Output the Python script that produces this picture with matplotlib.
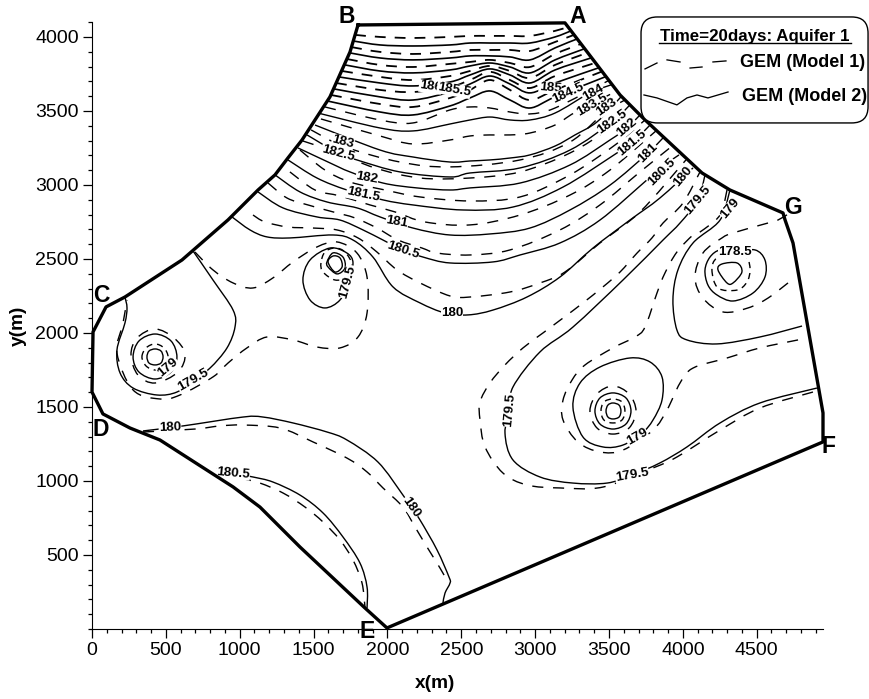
import matplotlib
matplotlib.use("Agg")
import matplotlib.pyplot as plt
from matplotlib.patches import FancyBboxPatch, PathPatch
from matplotlib.path import Path
from matplotlib.ticker import MultipleLocator

plt.rcParams['font.family'] = ['Liberation Sans', 'DejaVu Sans']

# aquifer boundary, clockwise from B
boundary_x = [1801, 3202, 3575, 3730, 4130, 4319, 4678, 4692, 4746, 4949, 4949, 1997, 1848, 1408, 1137, 955, 460, 257, 74, 0, 7, 95, 223, 609, 921, 1124, 1239, 1327, 1422, 1611, 1747, 1801]
boundary_y = [4081, 4095, 3608, 3453, 3081, 2966, 2811, 2764, 2608, 1460, 1264, 7, 142, 554, 824, 960, 1277, 1358, 1453, 1601, 2007, 2176, 2243, 2493, 2764, 2966, 3068, 3183, 3304, 3595, 3899, 4081]

# closely spaced lines below the BA edge, top to bottom, dashed and solid in turn
top_x = [1950, 2173, 2424, 2559, 2694, 2830, 2965, 3135]
top_left_x = [1781, 1767, 1754, 1747, 1726, 1713, 1693, 1672, 1652, 1638, 1618, 1591]
top_left_y = [4014, 3973, 3932, 3892, 3851, 3811, 3770, 3730, 3689, 3649, 3608, 3568]
top_right_x = [3223, 3243, 3263, 3283, 3311, 3331, 3351, 3378, 3405, 3426, 3446, 3473]
top_right_y = [4068, 4041, 4014, 3986, 3953, 3919, 3892, 3858, 3824, 3790, 3764, 3730]
top_rows = [
    [4000, 3993, 4000, 4007, 4007, 4007, 4007, 4041],
    [3946, 3939, 3946, 3959, 3959, 3959, 3959, 4000],
    [3899, 3885, 3899, 3912, 3912, 3912, 3905, 3966],
    [3858, 3845, 3858, 3872, 3872, 3865, 3845, 3926],
    [3811, 3797, 3818, 3831, 3845, 3824, 3797, 3885],
    [3770, 3757, 3777, 3804, 3824, 3797, 3757, 3845],
    [3730, 3709, 3736, 3770, 3804, 3770, 3723, 3811],
    [3689, 3669, 3696, 3743, 3784, 3743, 3689, 3777],
    [3642, 3628, 3662, 3709, 3764, 3709, 3655, 3736],
    [3595, 3574, 3628, 3682, 3736, 3682, 3622, 3689],
    [3547, 3527, 3588, 3642, 3709, 3642, 3574, 3642],
    [3493, 3473, 3534, 3588, 3635, 3574, 3520, 3595],
]

# Model 1 (dashed) head contours
d184_x = [1577, 1950, 2173, 2424, 2559, 2694, 2830, 2965, 3135, 3493]
d184_y = [3527, 3439, 3419, 3507, 3527, 3520, 3493, 3480, 3520, 3703]
d183_x = [1550, 1950, 2173, 2424, 2559, 2694, 2830, 2965, 3135, 3270, 3554]
d183_y = [3446, 3331, 3277, 3304, 3331, 3338, 3338, 3351, 3405, 3490, 3635]
d182_5_x = [1483, 1713, 2085, 2424, 2898, 3236, 3473, 3608]
d182_5_y = [3372, 3257, 3155, 3122, 3169, 3290, 3493, 3574]
d182_x = [1428, 1645, 1916, 2221, 2559, 2898, 3236, 3507, 3663]
d182_y = [3297, 3223, 3115, 3047, 3047, 3088, 3216, 3385, 3520]
d181_5_x = [1408, 1577, 1747, 1984, 2221, 2559, 2898, 3236, 3541, 3744]
d181_5_y = [3236, 3101, 3020, 2966, 2919, 2892, 2919, 3068, 3270, 3439]
d181_x = [1340, 1510, 1679, 1882, 2051, 2254, 2559, 2898, 3236, 3507, 3818]
d181_y = [3088, 2966, 2926, 2865, 2818, 2750, 2730, 2797, 2932, 3101, 3365]
d180_5_x = [1192, 1320, 1462, 1632, 1781, 1929, 2072, 2234, 2336, 2559, 2830, 3168, 3439, 3710, 3920]
d180_5_y = [3013, 2912, 2865, 2818, 2777, 2709, 2628, 2574, 2540, 2527, 2561, 2696, 2865, 3088, 3257]
d180_x = [1090, 1171, 1327, 1496, 1659, 1801, 1929, 2065, 2221, 2424, 2559, 2830, 3033, 3202, 3439, 3710, 4021]
d180_y = [2797, 2750, 2716, 2709, 2696, 2642, 2547, 2426, 2338, 2250, 2243, 2277, 2338, 2412, 2608, 2818, 3169]
d179_5_left_x = [697, 819, 955, 1090, 1225, 1361, 1523, 1659, 1794, 1862, 1862, 1801, 1679, 1523, 1361, 1185, 1049, 921, 819, 596, 460, 278, 169, 210, 237]
d179_5_left_y = [2547, 2426, 2338, 2304, 2372, 2480, 2581, 2615, 2540, 2378, 2135, 1973, 1899, 1905, 1953, 1973, 1899, 1797, 1703, 1581, 1554, 1615, 1865, 2067, 2223]
d179_5_main_x = [4881, 4522, 4252, 3960, 3798, 3459, 3168, 2945, 2782, 2661, 2627, 2627, 2694, 2796, 2918, 3053, 3189, 3324, 3459, 3575, 3690, 3791, 3866, 4001, 4116]
d179_5_main_y = [1601, 1493, 1344, 1162, 1088, 959, 953, 973, 1054, 1230, 1412, 1534, 1662, 1784, 1899, 2000, 2101, 2203, 2311, 2412, 2540, 2642, 2743, 2878, 3088]
d179_x = [4780, 4522, 4299, 4069, 3981, 3893, 3798, 3595, 3439, 3290, 3189, 3189, 3250, 3338, 3527, 3676, 3744, 3825, 3879, 3960, 4069, 4116, 4252, 4299]
d179_y = [1953, 1899, 1831, 1763, 1662, 1480, 1344, 1209, 1196, 1263, 1412, 1547, 1682, 1784, 1899, 1973, 2040, 2270, 2405, 2547, 2662, 2682, 2797, 2966]
d178_5_x = [4712, 4577, 4441, 4272, 4136, 4082, 4136, 4265, 4340, 4577, 4644, 4725]
d178_5_y = [2338, 2236, 2169, 2142, 2236, 2378, 2540, 2642, 2676, 2743, 2763, 2811]
d180_low_x = [345, 697, 867, 1022, 1273, 1496, 1726, 1862, 1970, 2105, 2187, 2268, 2356, 2410]
d180_low_y = [1331, 1351, 1372, 1378, 1358, 1264, 1155, 1061, 953, 824, 689, 554, 412, 317]
d180_5_low_x = [1002, 1137, 1293, 1442, 1564, 1679, 1767, 1828, 1848]
d180_5_low_y = [1020, 986, 919, 824, 723, 601, 466, 311, 149]

# Model 1 rings inside the wells
d_ring_a_x = [338, 366, 427, 487, 515, 487, 427, 366, 338]
d_ring_a_y = [1838, 1899, 1926, 1899, 1838, 1777, 1750, 1777, 1838]
d_ring_b_x = [264, 305, 427, 555, 630, 582, 427, 311, 264]
d_ring_b_y = [1851, 1966, 2027, 1966, 1858, 1736, 1662, 1716, 1851]
d_ring_c_x = [1550, 1564, 1645, 1726, 1760, 1713, 1645, 1577, 1550]
d_ring_c_y = [2473, 2412, 2358, 2378, 2459, 2547, 2574, 2547, 2473]
d_ring_d_x = [3446, 3466, 3527, 3588, 3608, 3588, 3527, 3466, 3446]
d_ring_d_y = [1473, 1534, 1554, 1534, 1473, 1412, 1392, 1412, 1473]
d_ring_e_x = [3371, 3419, 3527, 3636, 3683, 3636, 3527, 3419, 3371]
d_ring_e_y = [1473, 1588, 1642, 1588, 1473, 1358, 1317, 1358, 1473]
d_ring_f_x = [4197, 4238, 4367, 4434, 4455, 4434, 4353, 4231, 4197]
d_ring_f_y = [2426, 2304, 2290, 2344, 2426, 2507, 2540, 2507, 2426]

# Model 2 (solid) head contours
s183_5_x = [1530, 1950, 2173, 2424, 2559, 2694, 2830, 2965, 3135, 3371, 3514]
s183_5_y = [3486, 3385, 3365, 3412, 3439, 3459, 3439, 3439, 3486, 3622, 3676]
s183_x = [1510, 1950, 2173, 2424, 2559, 2694, 2830, 2965, 3135, 3270, 3419, 3581]
s183_y = [3405, 3236, 3189, 3155, 3162, 3169, 3182, 3203, 3263, 3338, 3426, 3595]
s182_5_x = [1456, 1665, 1794, 2085, 2424, 2559, 2898, 3236, 3520, 3642]
s182_5_y = [3338, 3216, 3169, 3088, 3054, 3081, 3115, 3236, 3426, 3541]
s182_x = [1395, 1611, 1747, 1970, 2200, 2424, 2559, 2898, 3236, 3507, 3622, 3710]
s182_y = [3250, 3149, 3088, 3013, 2980, 2966, 2980, 3013, 3135, 3304, 3385, 3473]
s181_5_x = [1327, 1523, 1726, 1970, 2173, 2512, 2850, 3189, 3554, 3656, 3778]
s181_5_y = [3169, 3047, 2966, 2899, 2865, 2831, 2851, 2986, 3216, 3284, 3405]
s181_x = [1239, 1408, 1591, 1794, 1950, 2173, 2424, 2694, 2965, 3236, 3507, 3764, 3866]
s181_y = [3068, 2953, 2885, 2845, 2784, 2709, 2662, 2669, 2709, 2831, 2999, 3216, 3318]
s180_5_x = [1124, 1293, 1523, 1679, 1835, 1970, 2105, 2241, 2424, 2715, 2898, 3168, 3439, 3757, 3859, 3974]
s180_5_y = [2953, 2845, 2784, 2763, 2696, 2628, 2561, 2513, 2473, 2480, 2527, 2608, 2763, 3034, 3122, 3203]
s180_x = [948, 1070, 1185, 1340, 1632, 1767, 1902, 2038, 2221, 2390, 2546, 2715, 2945, 3168, 3392, 3642, 3845, 4069]
s180_y = [2784, 2696, 2649, 2642, 2662, 2628, 2513, 2311, 2203, 2135, 2122, 2155, 2243, 2378, 2574, 2763, 2912, 3115]
s179_5_left_x = [684, 819, 955, 968, 914, 799, 684, 575, 440, 278, 190, 169, 223, 237, 223]
s179_5_left_y = [2554, 2358, 2155, 2040, 1899, 1763, 1682, 1601, 1581, 1628, 1730, 1885, 2067, 2169, 2243]
s179_5_well_x = [1679, 1577, 1476, 1428, 1476, 1611, 1726, 1767, 1733, 1679]
s179_5_well_y = [2223, 2169, 2223, 2358, 2493, 2574, 2540, 2473, 2345, 2223]
s179_5_main_x = [4908, 4522, 4252, 4028, 3845, 3656, 3487, 3256, 3033, 2850, 2796, 2830, 2850, 3033, 3256, 3595, 3866, 3981, 4103, 4150]
s179_5_main_y = [1628, 1527, 1392, 1230, 1122, 1040, 986, 986, 1027, 1142, 1324, 1480, 1635, 1872, 2040, 2358, 2628, 2743, 2899, 3068]
s179_egg_x = [3256, 3304, 3439, 3642, 3778, 3859, 3859, 3798, 3724, 3595, 3459, 3324, 3256]
s179_egg_y = [1500, 1662, 1770, 1831, 1804, 1703, 1547, 1412, 1324, 1243, 1230, 1297, 1500]
s179_right_x = [4807, 4522, 4231, 4028, 3960, 3933, 3967, 4069, 4252, 4319]
s179_right_y = [2047, 1973, 1926, 1953, 2020, 2223, 2426, 2608, 2763, 2966]
s178_5_x = [4150, 4184, 4252, 4353, 4489, 4556, 4556, 4475, 4340, 4231, 4170, 4150]
s178_5_y = [2426, 2513, 2561, 2547, 2561, 2493, 2378, 2270, 2216, 2257, 2324, 2426]
s180_low_x = [345, 616, 1022, 1158, 1361, 1591, 1726, 1936, 2105, 2160, 2221, 2336, 2417, 2424, 2390, 2376]
s180_low_y = [1338, 1372, 1432, 1432, 1392, 1331, 1277, 1128, 905, 824, 736, 534, 351, 311, 243, 176]
s180_5_low_x = [846, 955, 1090, 1225, 1408, 1564, 1699, 1814, 1862, 1862]
s180_5_low_y = [1088, 1054, 1027, 993, 905, 784, 622, 446, 284, 142]

# Model 2 rings inside the wells
s_ring_a_x = [372, 386, 427, 467, 481, 467, 427, 386, 372]
s_ring_a_y = [1838, 1878, 1892, 1878, 1838, 1797, 1784, 1797, 1838]
s_ring_b_x = [278, 318, 427, 535, 575, 535, 427, 318, 278]
s_ring_b_y = [1838, 1946, 1993, 1946, 1838, 1736, 1689, 1736, 1838]
s_ring_c_x = [1598, 1632, 1679, 1693, 1645, 1598]
s_ring_c_y = [2480, 2520, 2507, 2446, 2412, 2480]
s_ring_d_x = [1591, 1632, 1699, 1713, 1659, 1598, 1591]
s_ring_d_y = [2480, 2541, 2513, 2439, 2399, 2446, 2480]
s_ring_e_x = [3480, 3493, 3527, 3568, 3581, 3568, 3527, 3493, 3480]
s_ring_e_y = [1473, 1513, 1527, 1513, 1473, 1432, 1419, 1432, 1473]
s_ring_f_x = [3405, 3439, 3527, 3615, 3649, 3615, 3527, 3439, 3405]
s_ring_f_y = [1473, 1561, 1595, 1561, 1473, 1385, 1351, 1385, 1473]
s_ring_g_x = [4238, 4265, 4367, 4400, 4340, 4299, 4238]
s_ring_g_y = [2426, 2466, 2473, 2412, 2338, 2338, 2426]

# contour labels: text, x, y, rotation
label_text = ["186", "185.5", "185", "184.5", "184", "183.5", "183", "182.5", "182", "181.5", "181", "180.5", "180", "179.5", "179",
              "183", "182.5", "182", "181.5", "181", "180.5", "180", "179", "179.5", "179.5", "180", "180.5", "180", "179.5", "179", "179.5", "178.5"]
label_x = [2290, 2450, 3101, 3223, 3392, 3385, 3487, 3520, 3622, 3656, 3764, 3859, 4001, 4103, 4319,
           1699, 1665, 1862, 1835, 2065, 2105, 2437, 515, 684, 1733, 528, 955, 2160, 2830, 3690, 3656, 4353]
label_y = [3662, 3642, 3655, 3622, 3622, 3541, 3527, 3426, 3385, 3284, 3216, 3088, 3054, 2899, 2838,
           3290, 3216, 3047, 2932, 2750, 2561, 2135, 1770, 1682, 2345, 1358, 1054, 824, 1480, 1297, 1040, 2547]
label_rot = [-8, -10, -5, 25, 30, 30, 35, 35, 40, 40, 45, 45, 50, 50, 50,
             -15, -15, -10, -12, -10, -18, 0, 40, 30, 75, 2, -5, -55, 85, 30, 10, 0]

corner_names = ["A", "B", "C", "D", "E", "F", "G"]
corner_x = [3290, 1726, 61, 61, 1862, 4983, 4746]
corner_y = [4135, 4135, 2250, 1345, -20, 1230, 2851]

# legend samples
legend_dash_x = [[3744, 3825], [3893, 3981], [4049, 4130], [4204, 4292]]
legend_dash_y = [[3784, 3824], [3845, 3831], [3790, 3797], [3831, 3838]]
legend_solid_x = [3737, 3825, 3960, 4028, 4096, 4170, 4306]
legend_solid_y = [3608, 3588, 3541, 3588, 3608, 3588, 3628]

x_ticks = [0, 500, 1000, 1500, 2000, 2500, 3000, 3500, 4000, 4500]
y_ticks = [500, 1000, 1500, 2000, 2500, 3000, 3500, 4000]

dashed_curves = [
    (d184_x, d184_y), (d183_x, d183_y), (d182_5_x, d182_5_y), (d182_x, d182_y),
    (d181_5_x, d181_5_y), (d181_x, d181_y), (d180_5_x, d180_5_y), (d180_x, d180_y),
    (d179_5_left_x, d179_5_left_y), (d179_5_main_x, d179_5_main_y), (d179_x, d179_y),
    (d178_5_x, d178_5_y), (d180_low_x, d180_low_y), (d180_5_low_x, d180_5_low_y),
    (d_ring_b_x, d_ring_b_y), (d_ring_e_x, d_ring_e_y),
]
short_dashed_curves = [
    (d_ring_a_x, d_ring_a_y), (d_ring_c_x, d_ring_c_y), (d_ring_d_x, d_ring_d_y), (d_ring_f_x, d_ring_f_y),
]
solid_curves = [
    (s183_5_x, s183_5_y), (s183_x, s183_y), (s182_5_x, s182_5_y), (s182_x, s182_y),
    (s181_5_x, s181_5_y), (s181_x, s181_y), (s180_5_x, s180_5_y), (s180_x, s180_y),
    (s179_5_left_x, s179_5_left_y), (s179_5_well_x, s179_5_well_y), (s179_5_main_x, s179_5_main_y),
    (s179_egg_x, s179_egg_y), (s179_right_x, s179_right_y), (s178_5_x, s178_5_y),
    (s180_low_x, s180_low_y), (s180_5_low_x, s180_5_low_y),
    (s_ring_a_x, s_ring_a_y), (s_ring_b_x, s_ring_b_y), (s_ring_c_x, s_ring_c_y), (s_ring_d_x, s_ring_d_y),
    (s_ring_e_x, s_ring_e_y), (s_ring_f_x, s_ring_f_y), (s_ring_g_x, s_ring_g_y),
]


def draw_curve(ax, xs, ys, lw, linestyle="-"):
    """Draw a contour through its read points as a bezier path, so it bends like the hand drawn original."""
    pts = list(zip(xs, ys))
    closed = pts[0] == pts[-1]
    n = len(pts)
    verts = [pts[0]]
    codes = [Path.MOVETO]
    for i in range(n - 1):
        if closed:
            before = pts[i - 1] if i > 0 else pts[n - 2]
            after = pts[i + 2] if i + 2 < n else pts[1]
        else:
            before = pts[max(i - 1, 0)]
            after = pts[min(i + 2, n - 1)]
        p1 = pts[i]
        p2 = pts[i + 1]
        c1 = (p1[0] + (p2[0] - before[0]) / 6, p1[1] + (p2[1] - before[1]) / 6)
        c2 = (p2[0] - (after[0] - p1[0]) / 6, p2[1] - (after[1] - p1[1]) / 6)
        verts += [c1, c2, p2]
        codes += [Path.CURVE4, Path.CURVE4, Path.CURVE4]
    ax.add_patch(PathPatch(Path(verts, codes), fill=False, edgecolor="black", lw=lw, linestyle=linestyle, capstyle="butt"))


fig = plt.figure(figsize=(8.69, 6.99), dpi=100)
ax = fig.add_axes([92 / 869, 70 / 699, 731 / 869, 607 / 699])

# top family first, they alternate dashed / solid
for i, row in enumerate(top_rows):
    xs = [top_left_x[i]] + top_x + [top_right_x[i]]
    ys = [top_left_y[i]] + row + [top_right_y[i]]
    if i % 2 == 0:
        draw_curve(ax, xs, ys, 1.3, (0, (6, 5)))
    else:
        draw_curve(ax, xs, ys, 1.2)

for xs, ys in dashed_curves:
    draw_curve(ax, xs, ys, 1.0, (0, (8, 7)))
for xs, ys in short_dashed_curves:
    draw_curve(ax, xs, ys, 1.0, (0, (4.5, 3.5)))
for xs, ys in solid_curves:
    draw_curve(ax, xs, ys, 1.0)

ax.plot(boundary_x, boundary_y, color="black", lw=2.4, solid_joinstyle="round", clip_on=False, zorder=5)

for t, x, y, r in zip(label_text, label_x, label_y, label_rot):
    ax.text(x, y, t, rotation=r, rotation_mode="anchor", ha="center", va="center", fontsize=9.6,
            fontweight="bold", zorder=4, bbox=dict(fc="white", ec="none", pad=0.2))

for t, x, y in zip(corner_names, corner_x, corner_y):
    ax.text(x, y, t, ha="center", va="center", fontsize=16.5, fontweight="bold", zorder=6, clip_on=False)

# legend box sits partly outside the axes
box = FancyBboxPatch((3717, 3419), 1537, 716, boxstyle="round,pad=0,rounding_size=110",
                     fc="white", ec="black", lw=1.0, clip_on=False, zorder=7)
ax.add_patch(box)
ax.text(4489, 4002, "Time=20days: Aquifer 1", ha="center", va="center", fontsize=12.2, fontweight="bold", zorder=8)
ax.plot([3838, 5138], [3956, 3956], color="black", lw=1.0, clip_on=False, zorder=8)
for xs, ys in zip(legend_dash_x, legend_dash_y):
    ax.plot(xs, ys, color="black", lw=0.95, clip_on=False, zorder=8)
ax.plot(legend_solid_x, legend_solid_y, color="black", lw=0.95, clip_on=False, zorder=8)
ax.text(4387, 3824, "GEM (Model 1)", ha="left", va="center", fontsize=13, fontweight="bold", zorder=8)
ax.text(4400, 3595, "GEM (Model 2)", ha="left", va="center", fontsize=13, fontweight="bold", zorder=8)

ax.set_xlim(0, 4949)
ax.set_ylim(0, 4101)
ax.spines["top"].set_visible(False)
ax.spines["right"].set_visible(False)
ax.set_xticks(x_ticks)
ax.set_yticks(y_ticks)
ax.xaxis.set_minor_locator(MultipleLocator(100))
ax.yaxis.set_minor_locator(MultipleLocator(100))
ax.tick_params(which="major", length=6.5, width=0.9, labelsize=14, pad=3)
ax.tick_params(which="minor", length=3, width=0.9)

fig.text(435 / 869, 1 - 683 / 699, "x(m)", ha="center", va="center", fontsize=13.7, fontweight="bold")
fig.text(18 / 869, 1 - 326 / 699, "y(m)", ha="center", va="center", rotation=90, fontsize=13.7, fontweight="bold")

fig.savefig("out.png", dpi=100)
